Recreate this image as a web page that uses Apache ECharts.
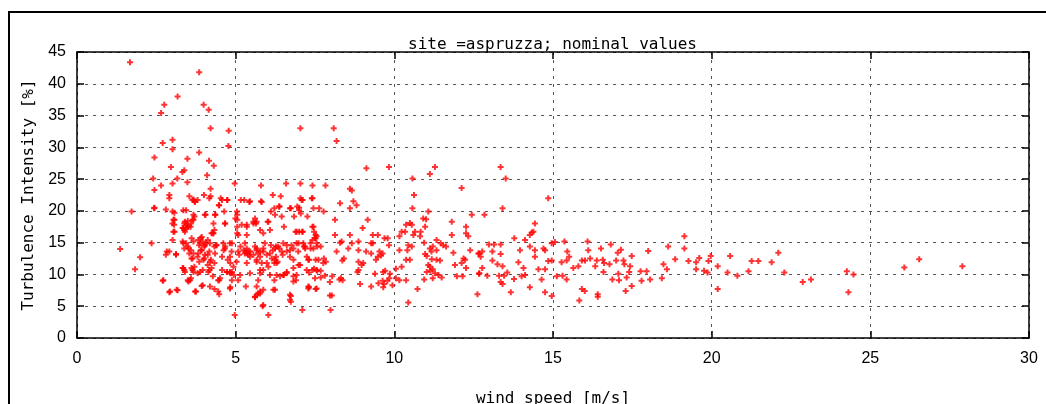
<!DOCTYPE html>
<html>
<head>
<meta charset="utf-8">
<script src="https://cdn.jsdelivr.net/npm/echarts@6/dist/echarts.min.js"></script>
<style>
html,body{margin:0;padding:0;background:#fff;}
#chart{width:1046px;height:404px;}
</style>
</head>
<body>
<div id="chart"></div>
<script>
const titleText = 'site =aspruzza; nominal values';
const xAxisName = 'wind speed [m/s]';
const yAxisName = 'Turbulence Intensity [%]';
const xTicks = [0, 5, 10, 15, 20, 25, 30];
const yTicks = [0, 5, 10, 15, 20, 25, 30, 35, 40, 45];

const pointsLow = [[1.67,43.4],[3.85,41.8],[3.17,38.0],[2.75,36.7],[2.65,35.4],[3.99,36.7],[4.15,35.9],[4.21,33.0],[4.78,32.6],[2.70,30.7],[3.01,31.2],[3.01,29.7],[4.77,30.2],[3.85,29.2],[2.44,28.4],[3.48,28.2],[4.16,27.9],[4.31,27.1],[2.96,26.9],[3.32,26.1],[3.38,26.4],[4.10,25.6],[2.40,25.1],[3.16,25.1],[3.48,24.5],[3.01,24.3],[2.65,24.0],[4.21,23.5],[4.97,24.3],[2.44,23.3],[2.91,22.5],[2.91,22.0],[3.54,22.3],[3.64,21.7],[3.70,21.5],[3.80,21.7],[4.00,22.5],[4.21,22.3],[4.47,20.9],[4.57,21.7],[4.73,21.7],[2.44,20.5],[2.80,20.2],[1.72,19.9],[3.01,19.9],[3.07,19.7],[3.07,18.6],[3.01,18.0],[3.44,20.1],[3.70,19.1],[3.64,18.6],[3.59,18.0],[3.49,18.4],[3.38,18.0],[3.33,17.3],[3.44,17.3],[3.49,17.5],[3.38,17.0],[4.05,19.4],[4.36,19.4],[4.67,18.0],[4.99,18.8],[3.07,16.7],[3.01,15.4],[2.35,14.9],[1.36,14.0],[1.99,12.7],[1.83,10.8],[2.80,13.1],[2.91,13.6],[3.12,13.1],[3.33,15.2],[3.44,14.9],[3.49,14.4],[3.38,14.1],[3.59,13.8],[3.54,13.3],[3.64,12.5],[3.80,12.8],[3.85,12.0],[3.70,11.2],[3.64,10.7],[3.80,10.2],[3.59,9.4],[3.49,9.1],[3.75,7.3],[3.33,11.0],[3.38,10.7],[2.70,9.0],[2.91,7.2],[3.17,7.5],[3.90,15.7],[3.96,15.2],[3.85,14.6],[4.07,14.9],[4.12,15.4],[4.01,14.4],[3.90,13.8],[4.17,13.6],[4.12,13.1],[4.01,12.5],[4.22,12.3],[4.33,11.8],[4.12,11.5],[3.96,10.7],[4.17,10.7],[4.28,9.7],[4.48,9.1],[3.96,8.3],[4.33,7.7],[4.48,6.9],[4.28,16.5],[4.33,17.0],[4.38,14.6],[4.33,14.4],[4.67,14.4],[4.62,13.8],[4.57,12.8],[4.75,12.3],[4.83,11.8],[4.57,10.7],[4.73,10.4],[4.83,10.2],[4.88,10.4],[4.94,9.9],[4.83,8.0],[4.88,9.1],[4.88,14.9],[4.97,3.6]];

const pointsMid = [[5.04,19.9],[5.19,17.8],[5.35,17.8],[5.61,18.8],[5.66,18.3],[5.56,18.0],[6.11,19.9],[6.22,20.4],[6.01,18.3],[6.37,20.7],[6.52,17.5],[6.89,16.7],[7.0,16.7],[7.10,16.7],[6.74,20.4],[7.0,20.1],[7.05,19.6],[5.80,24.0],[6.59,24.3],[7.04,24.3],[7.04,33.0],[5.27,21.7],[5.45,21.5],[5.80,21.5],[6.17,22.5],[6.42,22.3],[7.04,22.0],[6.94,20.7],[7.0,20.5],[5.15,14.4],[5.25,13.8],[5.31,13.6],[5.36,13.3],[5.46,13.6],[5.41,13.1],[5.61,14.4],[5.66,13.8],[5.77,13.6],[5.87,14.1],[5.77,12.8],[5.66,12.3],[5.82,11.8],[5.98,13.1],[6.11,14.6],[6.17,13.8],[6.27,14.4],[6.38,14.1],[6.27,12.8],[6.48,13.1],[6.22,11.8],[6.32,12.0],[6.03,11.2],[5.87,10.7],[5.77,10.2],[5.71,9.1],[5.32,8.1],[5.71,7.0],[5.77,7.3],[5.66,6.8],[5.61,6.4],[5.85,5.0],[6.03,3.6],[6.19,7.6],[6.22,9.1],[6.40,9.7],[6.52,9.9],[6.61,10.2],[6.82,9.7],[6.90,9.1],[6.98,11.5],[6.82,12.3],[6.71,12.8],[6.61,13.6],[6.76,14.6],[6.98,14.9],[7.19,14.4],[7.29,12.3],[7.29,8.1],[6.74,6.6],[6.74,5.7],[7.10,4.4],[8.09,33.0],[8.18,31.0],[9.12,26.7],[9.83,26.9],[7.42,24.0],[7.83,24.0],[8.60,23.5],[8.66,23.2],[7.42,22.0],[7.11,21.7],[7.63,20.4],[7.77,19.9],[8.29,21.2],[8.71,21.5],[8.81,20.9],[8.60,20.4],[8.13,18.6],[9.16,18.6],[9.00,17.3],[7.42,17.5],[7.47,16.7],[7.52,16.2],[7.52,15.7],[7.42,15.4],[7.36,14.9],[7.57,14.4],[7.68,14.4],[7.15,14.4],[7.36,14.1],[8.13,16.2],[8.29,15.0],[8.34,15.2],[8.60,16.2],[8.66,14.9],[8.87,15.2],[9.32,16.2],[9.48,16.2],[9.32,14.9],[9.27,14.9],[9.69,15.7],[9.79,15.7],[9.83,14.6],[8.55,14.1],[8.18,13.6],[8.87,13.8],[9.11,13.6],[9.27,13.3],[9.53,13.6],[9.63,13.3],[9.48,12.8],[9.58,13.0],[9.42,12.3],[7.31,12.3],[7.52,12.3],[7.78,12.5],[7.84,12.0],[7.03,11.5],[8.36,12.2],[8.41,12.5],[8.87,12.0],[8.97,11.5],[9.02,11.8],[7.76,11.8],[7.47,10.9],[7.57,10.6],[7.68,10.6],[7.42,10.7],[7.31,10.3],[7.81,9.8],[7.68,9.5],[8.04,9.7],[8.27,9.2],[8.37,9.1],[8.32,9.4],[8.87,10.7],[8.84,10.4],[9.39,10.1],[9.65,10.4],[9.71,10.6],[9.86,10.1],[9.84,9.4],[9.78,9.0],[9.50,8.6],[9.63,9.0],[9.68,8.5],[9.27,8.1],[9.65,8.0],[9.94,8.3],[8.92,8.5],[7.97,8.8],[7.31,8.0],[7.52,7.7],[7.97,6.7],[8.03,6.7],[7.99,4.4]];

const pointsDense = [[3.67,21.8],[3.72,21.4],[4.17,22.0],[4.53,22.0],[4.74,21.7],[4.48,20.9],[5.16,21.7],[5.43,21.4],[5.82,21.4],[6.38,20.7],[6.71,20.4],[7.08,21.7],[7.40,22.0],[7.45,20.4],[2.43,20.4],[3.35,20.1],[3.67,19.4],[4.03,19.4],[4.35,19.4],[4.64,19.9],[5.05,19.4],[5.05,18.6],[5.64,18.0],[6.03,18.3],[6.24,19.4],[6.45,19.1],[6.84,19.1],[7.26,19.1],[3.04,18.6],[3.06,17.8],[3.04,16.7],[3.40,18.3],[3.46,17.8],[3.35,17.3],[3.51,17.5],[3.67,18.6],[3.58,17.5],[3.40,16.7],[4.30,18.0],[4.66,18.0],[4.30,16.5],[5.05,17.5],[5.05,16.5],[5.35,17.5],[5.08,16.2],[5.35,16.2],[5.56,18.3],[5.77,17.0],[5.87,16.5],[6.08,17.0],[6.92,16.7],[7.11,16.7],[7.45,17.5],[7.55,16.0],[2.83,13.6],[3.12,13.2],[3.35,14.9],[3.51,14.1],[3.61,15.7],[3.67,15.2],[3.82,15.4],[3.88,14.9],[3.93,15.9],[4.03,14.6],[3.93,13.8],[3.82,13.3],[4.03,13.1],[4.19,14.9],[4.24,16.5],[4.40,14.6],[4.35,13.3],[4.19,12.0],[3.98,12.3],[3.61,12.5],[3.67,13.3],[4.61,14.9],[4.82,14.9],[4.66,14.1],[4.87,13.6],[4.82,12.8],[5.08,13.6],[5.11,13.1],[5.29,14.9],[5.35,14.1],[5.29,13.3],[5.40,13.6],[5.45,12.8],[5.56,13.1],[5.66,14.1],[5.71,13.3],[5.92,14.9],[5.87,13.6],[6.08,13.3],[6.14,12.5],[6.24,14.1],[6.34,14.4],[6.45,13.6],[6.50,14.9],[6.61,14.6],[6.71,13.8],[6.82,14.1],[6.92,14.9],[6.97,13.6],[7.13,14.9],[7.19,14.1],[7.24,12.8],[7.45,14.1],[7.50,15.7],[7.55,14.9],[7.61,12.3],[6.24,12.3],[6.29,11.8],[5.98,11.8],[5.66,12.0],[5.35,11.8],[5.03,12.0],[4.93,11.2],[4.82,10.4],[4.72,10.4],[3.35,11.0],[3.40,10.4],[3.61,11.0],[3.67,10.4],[3.56,9.1],[3.51,8.9],[3.88,10.4],[4.14,10.4],[4.24,11.0],[4.45,9.1],[4.51,9.4],[2.72,9.1],[3.14,7.6],[2.93,7.3],[3.72,7.3],[3.93,8.2],[4.19,8.1],[4.45,7.3],[4.82,7.8],[5.14,9.9],[5.08,9.1],[5.45,10.2],[5.77,10.7],[6.08,9.9],[6.29,9.9],[6.50,9.9],[6.61,10.4],[6.82,11.0],[6.92,9.9],[7.24,10.7],[7.55,10.7],[7.50,9.4],[7.29,7.8],[7.55,7.8],[6.82,8.9],[6.71,6.8],[6.71,6.0],[6.24,7.6],[5.87,7.6],[5.77,7.0],[5.61,6.5],[5.66,8.1],[5.87,5.2]];

const pointsHigh = [[10.05,10.9],[10.16,16.0],[10.23,16.7],[10.34,16.7],[10.37,17.8],[10.49,18.1],[10.55,17.8],[10.60,16.2],[10.65,16.7],[10.44,14.6],[10.55,14.4],[10.16,13.8],[10.41,13.8],[10.37,12.3],[10.23,11.2],[10.05,9.4],[10.16,9.1],[10.37,9.1],[10.49,12.3],[10.44,5.6],[10.73,7.7],[10.57,25.1],[10.62,22.5],[10.57,20.4],[11.12,25.8],[11.28,26.9],[10.91,18.8],[11.00,18.7],[11.07,19.9],[10.97,17.5],[10.83,16.7],[10.81,16.0],[10.94,15.0],[10.97,13.2],[11.12,14.1],[11.21,14.4],[11.33,15.4],[11.46,14.9],[11.54,14.6],[11.63,14.4],[11.33,13.8],[11.17,13.6],[11.02,12.9],[11.18,12.4],[11.33,12.3],[11.44,12.2],[11.07,11.5],[11.12,11.2],[11.21,10.8],[11.14,10.6],[11.02,10.4],[11.28,10.2],[11.39,9.9],[11.49,9.5],[11.21,9.4],[10.94,9.2],[11.81,18.3],[11.81,16.2],[11.86,13.4],[11.91,11.5],[11.97,9.7],[12.15,9.7],[12.12,11.8],[12.18,12.5],[12.26,17.5],[12.26,16.5],[12.33,16.0],[12.39,13.8],[12.44,19.4],[12.26,11.0],[12.23,12.3],[12.65,13.3],[12.68,10.2],[12.62,6.9],[12.12,23.6],[13.35,26.9],[13.51,25.1],[13.41,20.4],[12.84,19.4],[14.85,22.0],[14.43,18.0],[14.38,16.7],[14.33,16.6],[14.27,16.2],[14.12,15.4],[13.78,15.7],[12.98,14.7],[13.14,14.7],[13.35,14.7],[12.67,13.3],[12.72,12.8],[12.77,13.6],[13.09,13.6],[13.35,13.2],[13.96,13.8],[14.27,14.4],[14.43,13.8],[14.43,12.8],[14.70,14.1],[14.75,13.8],[14.96,14.9],[13.09,12.2],[13.25,11.6],[13.41,11.3],[13.91,11.9],[14.07,11.0],[14.54,10.8],[14.75,10.8],[14.85,12.1],[14.96,12.2],[12.67,10.1],[12.93,9.8],[12.77,11.0],[13.30,9.8],[13.46,9.8],[13.56,10.3],[13.35,8.8],[13.41,8.5],[13.77,9.3],[14.01,9.7],[14.12,9.9],[14.64,9.2],[13.67,7.2],[14.27,8.0],[14.75,7.2],[14.96,6.6]];

const pointsTail = [[15.06,15.1],[15.36,15.2],[15.51,12.8],[15.45,13.6],[15.27,11.9],[15.43,12.2],[15.64,11.0],[15.80,11.3],[15.91,12.2],[16.01,12.2],[16.17,12.5],[16.11,13.8],[16.09,15.2],[15.12,9.7],[15.30,9.8],[15.43,9.2],[15.91,7.7],[16.0,7.4],[15.83,5.9],[16.41,6.9],[16.41,6.5],[16.51,14.1],[16.33,11.3],[16.38,12.2],[16.57,12.3],[16.61,11.8],[16.59,10.4],[16.78,11.6],[16.82,14.7],[16.99,12.2],[17.04,13.4],[17.14,13.9],[17.22,12.2],[17.25,11.6],[17.06,10.1],[17.08,9.1],[16.87,9.2],[17.32,9.5],[17.40,10.4],[17.43,11.3],[17.48,12.9],[17.29,7.4],[17.48,8.2],[17.76,10.5],[17.79,9.0],[17.95,10.5],[18.00,13.7],[18.06,9.2],[18.43,9.4],[18.48,11.6],[18.59,10.8],[18.63,14.4],[18.85,12.4],[19.14,16.0],[19.14,14.1],[19.27,12.1],[19.51,11.9],[19.61,12.6],[19.51,10.8],[19.76,10.6],[19.87,10.3],[19.90,12.1],[19.97,12.9],[20.19,11.3],[20.19,7.7],[20.50,10.3],[20.58,12.9],[20.81,9.8],[21.16,10.5],[21.26,12.1],[21.47,12.1],[21.89,11.9],[22.10,13.4],[22.29,10.3],[22.87,8.8],[23.13,9.2],[24.26,10.5],[24.31,7.2],[24.47,10.0],[26.07,11.1],[26.54,12.4],[27.90,11.3]];

const allPoints = pointsLow.concat(pointsMid, pointsDense, pointsHigh, pointsTail);

const chart = echarts.init(document.getElementById('chart'), null, {renderer: 'canvas'});
const labelFont = 'Liberation Sans';
const monoFont = 'DejaVu Sans Mono';
const plus = 'path://M2,0H4V2H6V4H4V6H2V4H0V2H2Z';

function xAx(pos, main) {
  return {
    type: 'value', position: pos, min: xTicks[0], max: xTicks[xTicks.length-1], interval: 5,
    axisLine: {show: true, onZero: false, lineStyle: {color: '#000', width: 1.5}},
    axisTick: {show: true, inside: true, length: 7, lineStyle: {color: '#000', width: 1.5}},
    axisLabel: {show: main, margin: 13, fontSize: 16, color: '#000', fontFamily: labelFont},
    splitLine: {show: main, lineStyle: {type: [3, 5], color: '#555', width: 1}},
    name: main ? xAxisName : '', nameLocation: 'middle', nameGap: 53,
    nameTextStyle: {fontSize: 16, color: '#000', fontFamily: monoFont}
  };
}
function yAx(pos, main) {
  return {
    type: 'value', position: pos, min: yTicks[0], max: yTicks[yTicks.length-1], interval: 5,
    axisLine: {show: true, onZero: false, lineStyle: {color: '#000', width: 1.5}},
    axisTick: {show: true, inside: true, length: 7, lineStyle: {color: '#000', width: 1.5}},
    axisLabel: {show: main, margin: 11, fontSize: 16, color: '#000', fontFamily: labelFont},
    splitLine: {show: main, lineStyle: {type: [3, 5], color: '#555', width: 1}},
    name: main ? yAxisName : '', nameLocation: 'middle', nameGap: 37, nameRotate: 90,
    nameTextStyle: {fontSize: 16, color: '#000', fontFamily: monoFont}
  };
}

chart.setOption({
  animation: false,
  backgroundColor: '#fff',
  title: {
    text: titleText, left: 403, top: 32,
    textStyle: {fontSize: 16, fontWeight: 'normal', color: '#000', fontFamily: monoFont}
  },
  grid: {left: 77, top: 52, right: 17, bottom: 66, containLabel: false, outerBoundsMode: 'none'},
  xAxis: [xAx('bottom', true), xAx('top', false)],
  yAxis: [yAx('left', true), yAx('right', false)],
  graphic: [{
    type: 'rect', silent: true,
    shape: {x: 9, y: 12, width: 1200, height: 600},
    style: {fill: 'none', stroke: '#000', lineWidth: 2}
  }],
  series: [{
    type: 'scatter', xAxisIndex: 0, yAxisIndex: 0,
    data: allPoints, symbol: plus, symbolSize: 6,
    itemStyle: {color: '#ff0000'}, silent: true
  }]
});
</script>
</body>
</html>
